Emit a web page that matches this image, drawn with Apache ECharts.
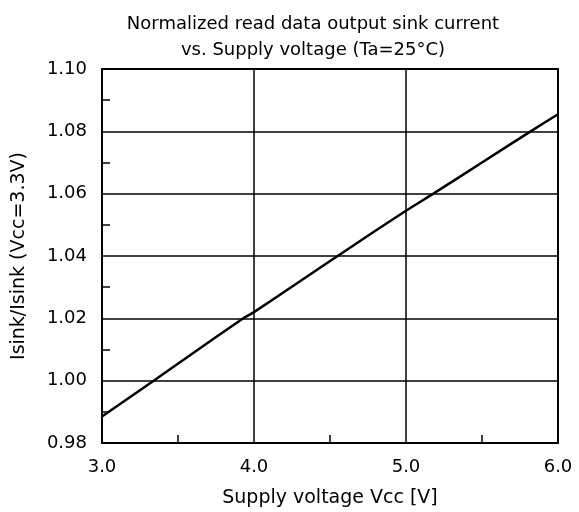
<!DOCTYPE html>
<html><head><meta charset="utf-8">
<script src="https://cdn.jsdelivr.net/npm/echarts@6/dist/echarts.min.js"></script>
<style>html,body{margin:0;padding:0;background:#fff}#c{width:579px;height:512px}</style>
</head><body><div id="c"></div>
<script>
var titleLines = ["Normalized read data output sink current", "vs. Supply voltage (Ta=25°C)"];
var xName = "Supply voltage Vcc [V]";
var yName = "Isink/Isink (Vcc=3.3V)";
var vcc = [3.0, 3.34, 3.93, 4.0, 4.55, 5.0, 5.18, 5.5, 5.82, 6.0];
var ratio = [0.9885, 1.000, 1.020, 1.022, 1.040, 1.0545, 1.060, 1.070, 1.080, 1.0855];
var FONT = "DejaVu Sans, sans-serif";
var chart = echarts.init(document.getElementById('c'));
chart.setOption({
  animation: false,
  backgroundColor: '#fff',
  title: {
    text: titleLines.join('\n'),
    left: 308, top: 6, textAlign: 'center',
    textStyle: {fontFamily: FONT, fontSize: 18, fontWeight: 'normal', color: '#000', lineHeight: 26}
  },
  grid: {left: 102, right: 21, top: 69, bottom: 69, show: true, borderColor: '#000', borderWidth: 2, backgroundColor: 'transparent', containLabel: false, outerBoundsMode: 'none'},
  xAxis: {
    type: 'value', min: 3, max: 6, interval: 1,
    name: xName, nameLocation: 'middle', nameGap: 46,
    nameTextStyle: {fontFamily: FONT, fontSize: 19, color: '#000'},
    axisLine: {show: true, lineStyle: {color: '#000', width: 2}},
    axisTick: {show: false, inside: true},
    minorTick: {show: true, splitNumber: 2, length: 8, lineStyle: {color: '#000', width: 1.5}},
    axisLabel: {margin: 15, fontFamily: FONT, fontSize: 18, color: '#000', formatter: function(v){return v.toFixed(1);}},
    splitLine: {show: true, lineStyle: {color: '#000', width: 1.5}}
  },
  yAxis: {
    type: 'value', min: 0.98, max: 1.10, interval: 0.02,
    name: yName, nameLocation: 'middle', nameGap: 73, nameRotate: 90,
    nameTextStyle: {fontFamily: FONT, fontSize: 19, color: '#000'},
    axisLine: {show: true, lineStyle: {color: '#000', width: 2}},
    axisTick: {show: false, inside: true},
    minorTick: {show: true, splitNumber: 2, length: 8, lineStyle: {color: '#000', width: 1.5}},
    axisLabel: {margin: 15, fontFamily: FONT, fontSize: 18, color: '#000', formatter: function(v){return v.toFixed(2);}},
    splitLine: {show: true, lineStyle: {color: '#000', width: 1.5}}
  },
  series: [{
    type: 'line', showSymbol: false, smooth: true,
    data: vcc.map(function(x,i){return [x, ratio[i]];}),
    lineStyle: {color: '#000', width: 2.5}
  }]
});
</script></body></html>
